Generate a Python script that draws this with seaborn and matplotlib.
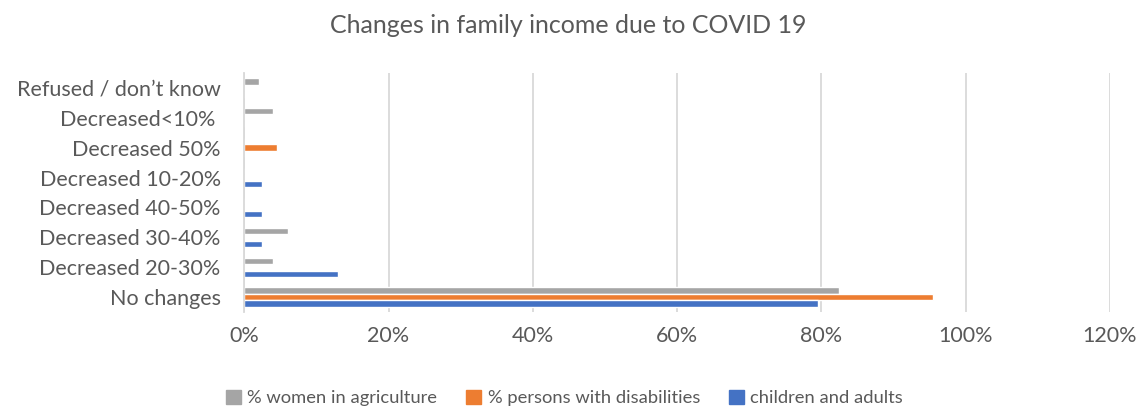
import pandas as pd
import numpy as np
import matplotlib.pyplot as plt
import seaborn as sns
from matplotlib.ticker import PercentFormatter

categories = ["Refused / don\u2019t know", "Decreased<10% ", "Decreased 50%", "Decreased 10-20%",
              "Decreased 40-50%", "Decreased 30-40%", "Decreased 20-30%", "No changes"]
series = ["% women in agriculture", "% persons with disabilities", "children and adults"]
women = [2.0, 4.0, 0, 0, 0, 6.0, 4.0, 82.4]
disab = [0, 0, 4.5, 0, 0, 0, 0, 95.5]
children = [0, 0, 0, 2.5, 2.5, 2.5, 13.0, 79.5]
colors = ["#A5A5A5", "#ED7D31", "#4472C4"]

df = pd.DataFrame({"cat": categories * 3,
                   "series": np.repeat(series, len(categories)),
                   "value": women + disab + children})

sns.set_style("white")
plt.rcParams['font.family'] = ['Lato', 'DejaVu Sans']
txt = "#595959"

fig = plt.figure(figsize=(11.36, 4.07), dpi=100)
ax = fig.add_axes([0.215, 0.233, 0.762, 0.588])
sns.barplot(data=df, y="cat", x="value", hue="series", order=categories,
            hue_order=series, palette=colors, orient="h", width=0.65,
            saturation=1, ax=ax)

ax.set_xlim(0, 120)
ax.set_xticks(range(0, 121, 20))
ax.xaxis.set_major_formatter(PercentFormatter(decimals=0))
ax.grid(axis="x", color="#D9D9D9", linewidth=1.3)
ax.set_axisbelow(True)
for s in ["top", "right", "bottom"]:
    ax.spines[s].set_visible(False)
ax.spines["left"].set_color("#D9D9D9")
ax.spines["left"].set_linewidth(1.3)
ax.tick_params(axis="both", length=0, labelsize=15.5, colors=txt)
ax.tick_params(axis="y", pad=17)
ax.tick_params(axis="x", pad=10)
ax.set_xlabel("")
ax.set_ylabel("")

fig.suptitle("Changes in family income due to COVID 19", y=0.965, fontsize=18, color=txt)

ax.get_legend().remove()
handles = [plt.Rectangle((0, 0), 1, 1, color=c) for c in colors]
fig.legend(handles, series, loc="lower center", bbox_to_anchor=(0.497, -0.038), ncol=3,
           frameon=False, fontsize=13.2, handlelength=0.8, handleheight=0.8,
           handletextpad=0.35, columnspacing=1.6, labelcolor=txt)

fig.savefig("out.png", dpi=100)
